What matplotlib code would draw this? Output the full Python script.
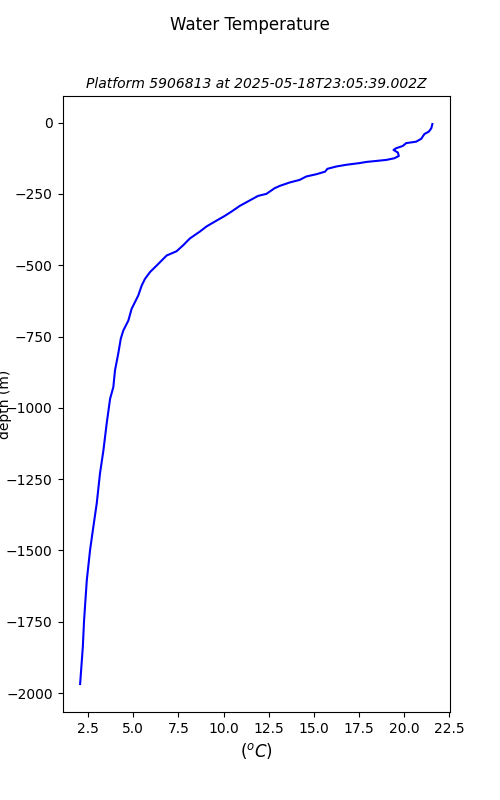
import matplotlib

matplotlib.use("Agg")
import matplotlib.pyplot as plt  # noqa: E402

# profile (temperature in degC, depth in m)
temperature = [
    21.56, 21.50, 21.36, 21.12, 20.94, 20.66, 20.11, 19.92, 19.55, 19.41,
    19.65, 19.70, 19.46, 19.00, 17.90, 17.53, 16.79, 16.24, 15.75, 15.62,
    15.14, 14.58, 14.21, 13.66, 13.11, 12.83, 12.37, 11.91, 11.45, 10.90,
    10.44, 10.07, 9.52, 9.06, 8.69, 8.14, 7.75, 7.40, 6.85, 6.66,
    6.30, 5.93, 5.65, 5.47, 5.28, 4.91, 4.73, 4.45, 4.31, 4.17,
    3.99, 3.90, 3.72, 3.53, 3.35, 3.16, 2.98, 2.79, 2.61, 2.43,
    2.28, 2.21, 2.06,
]
depth = [
    -5, -20, -32, -40, -57, -67, -72, -82, -90, -96,
    -105, -117, -125, -131, -138, -142, -148, -154, -162, -172,
    -181, -189, -201, -210, -222, -230, -250, -257, -273, -292,
    -312, -327, -347, -364, -382, -406, -431, -451, -466, -478,
    -501, -524, -548, -571, -606, -653, -694, -729, -758, -810,
    -869, -927, -968, -1055, -1149, -1230, -1335, -1418, -1499, -1604,
    -1744, -1838, -1968,
]

platform = "5906813"
timestamp = "2025-05-18T23:05:39.002Z"

fig, ax = plt.subplots(figsize=(5, 8), dpi=100)
ax.plot(temperature, depth, color="blue")
fig.suptitle("Water Temperature")
ax.set_title(f"Platform {platform} at {timestamp}", fontsize=10, style="italic")
ax.set_xlabel("$(^oC)$", fontsize=12)
ax.set_ylabel("depth (m)")
ax.yaxis.set_label_coords(-0.13, 0.5)
fig.savefig("out.png", dpi=100)
plt.close(fig)
